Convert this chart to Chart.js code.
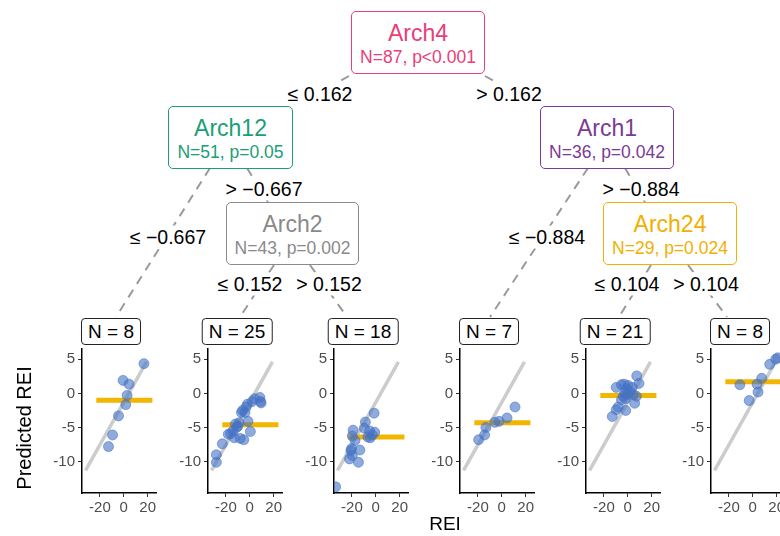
<!DOCTYPE html>
<html>
<head>
<meta charset="utf-8">
<script src="https://cdn.jsdelivr.net/npm/chart.js@4"></script>
<style>
  body { margin: 0; background: #fff; }
  #stage { position: relative; width: 780px; height: 536px; overflow: hidden; background: #fff;
           font-family: "Liberation Sans", Arial, sans-serif; }
  #stage canvas { position: absolute; }
  .node { position: absolute; box-sizing: border-box; background: #fff; border: 1px solid; border-radius: 5px;
          text-align: center; }
  .node .name { font-size: 23px; line-height: 26px; margin-top: 8px; }
  .node .stats { font-size: 17.5px; line-height: 22px; }
  .split { position: absolute; transform: translate(-50%, -50%); background: #fff; font-size: 19.5px;
           white-space: nowrap; padding: 0 2px; color: #000; }
  .leaf { position: absolute; transform: translateX(-50%); box-sizing: border-box; height: 27px; line-height: 25px;
          border: 1px solid #222; border-radius: 4px; background: #fff; font-size: 19px; padding: 0 6px;
          white-space: nowrap; color: #000; }
  .title { position: absolute; color: #000; white-space: nowrap; }
</style>
</head>
<body>
<div id="stage"></div>
<script>
// ---- data ----
const nodeNames = ["Arch4", "Arch12", "Arch1", "Arch2", "Arch24"];
const nodeStats = ["N=87, p<0.001", "N=51, p=0.05", "N=36, p=0.042", "N=43, p=0.002", "N=29, p=0.024"];
const nodeColors = ["#E8407A", "#1B9E77", "#7B3A96", "#8A8A8A", "#F0B000"];
const splitLabels = ["≤ 0.162", "> 0.162", "≤ −0.667", "> −0.667", "≤ 0.152", "> 0.152",
                     "≤ −0.884", "> −0.884", "≤ 0.104", "> 0.104"];
const leafLabels = ["N = 8", "N = 25", "N = 18", "N = 7", "N = 21", "N = 8"];

const leaf1Rei  = [16.9, -0.6, 4.4, 2.8, 1.7, -4.4, -9.4, -12.8];
const leaf1Pred = [4.35, 1.9, 1.35, -0.3, -1.65, -3.3, -6.1, -7.8];
const leaf2Rei  = [-28, -28, -23, -18, -16, -14, -13, -12, -11, -10, -9, -8, -7, -6, -5, -4, -3, -2, -1.5, 0.5, 2, 4, 8.5, 9, 9.5];
const leaf2Pred = [-9.0, -10.1, -7.4, -6.0, -5.9, -5.5, -6.5, -4.5, -5.0, -4.8, -4.3, -6.6, -2.8, -2.5, -6.8, -2.8, -2.0, -1.6, -4.1, -5.6, -1.2, -0.8, -0.6, -1.2, -1.4];
const leaf3Rei  = [-33.6, -1.4, -8.7, -9.6, -19, -19.7, -17.4, -5.2, -0.9, -2.9, -6.7, -4.6, -20.3, -20.9, -13.3, -22, -19.7, -14.5];
const leaf3Pred = [-13.7, -2.9, -4.2, -5.1, -5.4, -6.25, -6.9, -5.5, -5.7, -6.1, -6.4, -6.5, -8.1, -8.4, -8.3, -9.6, -9.1, -10.1];
const leaf4Rei  = [11.1, 4.4, -2.2, -5.8, -13.3, -14.4, -19.4];
const leaf4Pred = [-2.0, -3.6, -4.1, -4.25, -5.0, -6.1, -6.8];
const leaf5Rei  = [7.5, 9.4, -9.7, -5.3, -3, 0.3, 3.6, -1.1, 1.7, -2.5, -0.3, -3.9, 4.4, 7.2, -1.9, -5.3, 5.8, -8, -9.7, -13, -1.7];
const leaf5Pred = [2.56, 1.45, 0.87, 1.26, 1.35, 1.16, 0.87, 0.68, 0.29, 0.05, -0.19, -0.43, -0.19, -0.43, -0.77, -0.97, -1.45, -2.0, -2.4, -3.4, -2.5];
const leaf6Rei  = [-10.8, -3, 3.6, 4.4, 7.5, 14.2, 19.2, 21];
const leaf6Pred = [1.26, -1.06, 1.35, 0.19, 2.2, 4.25, 5.0, 5.2];
const leafMeans = [-1.0, -4.6, -6.4, -4.3, -0.3, 1.7];

const fitRei = [-32, 19];
const fitPred = [-11.3, 4.6];
const meanSpan = [-23, 24];
const xTicks = [-20, 0, 20];
const yTicks = [-10, -5, 0, 5];

// ---- layout (page pixels) ----
const nodeBoxes = [[351, 11, 134, 63], [168, 106, 125, 63], [540, 106, 134, 63], [226, 202, 133, 63], [603, 202, 134, 63]];
const splitPos = [[320, 94], [509, 94], [168, 237], [264, 189], [250, 284], [329, 284],
                  [547, 237], [641, 189], [627, 284], [706, 284]];
const edgeLines = [[349, 76, 296, 106], [485, 76, 538, 106], [210, 168, 116, 317], [247, 168, 268, 202],
                   [274, 265, 240, 317], [310, 265, 347, 317], [588, 168, 490, 317], [625, 168, 645, 202],
                   [651, 265, 619, 317], [688, 265, 727, 317]];
const panelAxisX = [82, 208, 334, 460, 586, 711];
const plotTop = 347, plotH = 146, plotW = 74;

const stage = document.getElementById("stage");
const FONT = "'Liberation Sans', Arial, sans-serif";

function makeCanvas(left, top, w, h) {
  const c = document.createElement("canvas");
  c.width = w; c.height = h;
  c.style.left = left + "px"; c.style.top = top + "px";
  c.style.width = w + "px"; c.style.height = h + "px";
  stage.appendChild(c);
  return c;
}

// tree edges on a full-size background chart
const edgeCanvas = makeCanvas(0, 0, 780, 536);
new Chart(edgeCanvas.getContext("2d"), {
  type: "scatter",
  data: {
    datasets: edgeLines.map((e) => ({
      data: [{ x: e[0], y: e[1] }, { x: e[2], y: e[3] }],
      showLine: true,
      borderColor: "#9a9a9a",
      borderWidth: 2,
      borderDash: [9, 7],
      pointRadius: 0,
    })),
  },
  options: {
    responsive: false,
    animation: false,
    devicePixelRatio: 1,
    layout: { padding: 0 },
    plugins: { legend: { display: false }, tooltip: { enabled: false } },
    scales: {
      x: { display: false, min: 0, max: 780 },
      y: { display: false, min: 0, max: 536, reverse: true },
    },
  },
});

// inner nodes
nodeNames.forEach((name, i) => {
  const b = nodeBoxes[i];
  const d = document.createElement("div");
  d.className = "node";
  d.style.left = b[0] + "px"; d.style.top = b[1] + "px";
  d.style.width = b[2] + "px"; d.style.height = b[3] + "px";
  d.style.color = nodeColors[i];
  d.style.borderColor = nodeColors[i];
  d.innerHTML = `<div class="name">${name}</div><div class="stats">${nodeStats[i]}</div>`;
  stage.appendChild(d);
});

// split labels
splitLabels.forEach((txt, i) => {
  const d = document.createElement("div");
  d.className = "split";
  d.textContent = txt;
  d.style.left = splitPos[i][0] + "px";
  d.style.top = splitPos[i][1] + "px";
  stage.appendChild(d);
});

// leaf panels
const leafRei = [leaf1Rei, leaf2Rei, leaf3Rei, leaf4Rei, leaf5Rei, leaf6Rei];
const leafPred = [leaf1Pred, leaf2Pred, leaf3Pred, leaf4Pred, leaf5Pred, leaf6Pred];
const padL = 44, padR = 12, padT = 10, padB = 24;

leafLabels.forEach((label, i) => {
  const ax = panelAxisX[i];
  const c = makeCanvas(ax - padL, plotTop - padT, padL + plotW + padR, padT + plotH + padB);

  const points = leafRei[i].map((r, k) => ({ x: r, y: leafPred[i][k] }));
  new Chart(c.getContext("2d"), {
    type: "scatter",
    data: {
      datasets: [
        {
          data: points,
          backgroundColor: "rgba(68,114,196,0.6)",
          borderColor: "rgba(68,114,196,0.55)",
          borderWidth: 1,
          pointRadius: 5,
          order: 0,
        },
        {
          data: meanSpan.map((x) => ({ x: x, y: leafMeans[i] })),
          showLine: true,
          borderColor: "#F2B600",
          borderWidth: 5,
          pointRadius: 0,
          order: 1,
        },
        {
          data: fitRei.map((x, k) => ({ x: x, y: fitPred[k] })),
          showLine: true,
          borderColor: "#cccccc",
          borderWidth: 3.5,
          pointRadius: 0,
          order: 2,
        },
      ],
    },
    options: {
      responsive: false,
      animation: false,
      devicePixelRatio: 1,
      layout: { padding: { top: padT, right: padR, left: 0, bottom: 0 } },
      plugins: { legend: { display: false }, tooltip: { enabled: false } },
      scales: {
        x: {
          min: -35, max: 27,
          afterBuildTicks: (s) => { s.ticks = xTicks.map((v) => ({ value: v })); },
          afterFit: (s) => { s.height = padB; },
          grid: { drawOnChartArea: false, drawTicks: true, tickLength: 4, color: "#333", lineWidth: 1 },
          border: { display: true, color: "#000", width: 1.5 },
          ticks: { color: "#4d4d4d", font: { family: FONT, size: 15 }, padding: 2, maxRotation: 0,
                   callback: (v) => String(v) },
        },
        y: {
          min: -14.6, max: 6.5,
          afterBuildTicks: (s) => { s.ticks = yTicks.map((v) => ({ value: v })); },
          afterFit: (s) => { s.width = padL; },
          grid: { drawOnChartArea: false, drawTicks: true, tickLength: 4, color: "#333", lineWidth: 1 },
          border: { display: true, color: "#000", width: 1.5 },
          ticks: { color: "#4d4d4d", font: { family: FONT, size: 15 }, padding: 3,
                   callback: (v) => String(v) },
        },
      },
    },
  });

  const d = document.createElement("div");
  d.className = "leaf";
  d.textContent = label;
  d.style.left = (ax + 29) + "px";
  d.style.top = "318px";
  stage.appendChild(d);
});

// axis titles
const yTitle = document.createElement("div");
yTitle.className = "title";
yTitle.textContent = "Predicted REI";
yTitle.style.fontSize = "20px";
yTitle.style.left = "24px";
yTitle.style.top = "428px";
yTitle.style.transform = "translate(-50%, -50%) rotate(-90deg)";
stage.appendChild(yTitle);

const xTitle = document.createElement("div");
xTitle.className = "title";
xTitle.textContent = "REI";
xTitle.style.fontSize = "19px";
xTitle.style.left = "445px";
xTitle.style.top = "524px";
xTitle.style.transform = "translate(-50%, -50%)";
stage.appendChild(xTitle);
</script>
</body>
</html>
